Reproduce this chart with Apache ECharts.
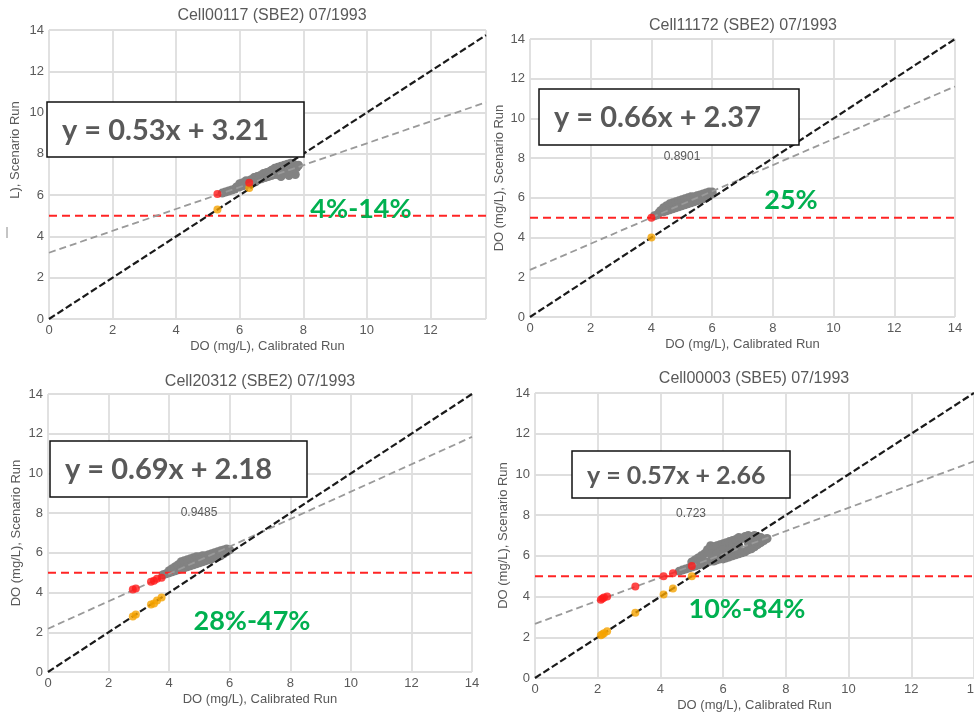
<!DOCTYPE html>
<html>
<head>
<meta charset="utf-8">
<script src="https://cdn.jsdelivr.net/npm/echarts@6/dist/echarts.min.js"></script>
<style>
  html, body { margin: 0; padding: 0; background: #fff; }
  #chart { width: 974px; height: 715px; }
</style>
</head>
<body>
<div id="chart"></div>
<script>
// ---- Data ---------------------------------------------------------------
const cellTitles = [
  'Cell00117 (SBE2) 07/1993',
  'Cell11172 (SBE2) 07/1993',
  'Cell20312 (SBE2) 07/1993',
  'Cell00003 (SBE5) 07/1993'
];
const xAxisName = 'DO (mg/L), Calibrated Run';
const yAxisNames = ['L), Scenario Run', 'DO (mg/L), Scenario Run', 'DO (mg/L), Scenario Run', 'DO (mg/L), Scenario Run'];
const axisTicks = [0, 2, 4, 6, 8, 10, 12, 14];
const xAxisMax = [13.75, 14, 14, 14];

// fitted regression (scenario vs calibrated)
const slopes = [0.53, 0.66, 0.69, 0.57];
const intercepts = [3.21, 2.37, 2.18, 2.66];
const rValues = ['', '0.8901', '0.9485', '0.723'];
const exceedLabels = ['4%-14%', '25%', '28%-47%', '10%-84%'];
const doStandard = 5;

// daily DO pairs [calibrated, scenario]
const cloud1 = [
  [5.45, 6.1], [5.55, 6.15], [5.65, 6.2], [5.75, 6.25], [5.85, 6.3], [5.9, 6.4], [6.0, 6.4], [6.0, 6.55],
  [6.1, 6.45], [6.1, 6.6], [6.2, 6.5], [6.2, 6.7], [6.3, 6.55], [6.35, 6.75], [6.4, 6.6], [6.45, 6.85],
  [6.5, 6.65], [6.55, 6.9], [6.6, 6.75], [6.65, 6.95], [6.7, 6.8], [6.75, 7.05], [6.8, 6.85], [6.85, 7.1],
  [6.9, 6.9], [6.95, 7.15], [7.0, 6.95], [7.0, 7.2], [7.1, 7.0], [7.1, 7.3], [7.2, 7.0], [7.2, 7.35],
  [7.3, 7.05], [7.3, 7.4], [7.4, 7.1], [7.4, 7.45], [7.5, 7.05], [7.5, 7.5], [7.6, 7.15], [7.6, 7.55],
  [7.7, 7.25], [7.7, 7.5], [7.8, 7.35], [7.85, 7.45], [7.75, 7.0], [7.55, 6.95], [7.3, 6.9], [7.0, 7.05]
];
const cloud2 = [
  [4.1, 5.1], [4.2, 5.15], [4.25, 5.25], [4.3, 5.35], [4.4, 5.3], [4.4, 5.5], [4.5, 5.35], [4.5, 5.6],
  [4.6, 5.4], [4.6, 5.7], [4.7, 5.45], [4.7, 5.75], [4.8, 5.5], [4.8, 5.8], [4.9, 5.55], [4.9, 5.85],
  [5.0, 5.6], [5.0, 5.9], [5.1, 5.65], [5.1, 5.95], [5.2, 5.7], [5.2, 6.0], [5.3, 5.75], [5.3, 6.05],
  [5.4, 5.8], [5.4, 6.05], [5.5, 5.85], [5.5, 6.1], [5.6, 5.9], [5.6, 6.15], [5.7, 5.95], [5.7, 6.2],
  [5.8, 6.0], [5.8, 6.25], [5.9, 6.1], [5.9, 6.3], [6.0, 6.2], [6.0, 6.3]
];
const cloud3 = [
  [3.8, 4.9], [3.9, 4.95], [4.0, 5.0], [4.0, 5.1], [4.1, 5.05], [4.1, 5.2], [4.2, 5.1], [4.2, 5.3],
  [4.3, 5.15], [4.3, 5.4], [4.4, 5.2], [4.4, 5.55], [4.5, 5.25], [4.5, 5.6], [4.6, 5.3], [4.6, 5.65],
  [4.7, 5.35], [4.7, 5.7], [4.8, 5.4], [4.8, 5.75], [4.9, 5.45], [4.9, 5.8], [5.0, 5.5], [5.0, 5.8],
  [5.1, 5.55], [5.1, 5.85], [5.2, 5.6], [5.2, 5.85], [5.3, 5.65], [5.3, 5.9], [5.4, 5.7], [5.4, 5.95],
  [5.5, 5.75], [5.5, 6.0], [5.6, 5.8], [5.6, 6.05], [5.7, 5.85], [5.7, 6.1], [5.8, 5.95], [5.8, 6.15],
  [5.9, 6.05], [5.9, 6.2], [6.0, 6.15]
];
const cloud4 = [
  [4.6, 5.25], [4.7, 5.3], [4.8, 5.35], [4.9, 5.4], [5.0, 5.45], [5.0, 5.7], [5.1, 5.5], [5.1, 5.8],
  [5.2, 5.55], [5.2, 5.9], [5.3, 5.6], [5.3, 6.0], [5.4, 5.65], [5.4, 6.1], [5.5, 5.7], [5.5, 6.3],
  [5.6, 5.75], [5.6, 6.5], [5.7, 5.75], [5.7, 6.45], [5.8, 5.8], [5.8, 6.5], [5.9, 5.85], [5.9, 6.55],
  [6.0, 5.85], [6.0, 6.6], [6.1, 5.9], [6.1, 6.65], [6.2, 5.95], [6.2, 6.7], [6.3, 6.0], [6.3, 6.75],
  [6.4, 6.05], [6.4, 6.8], [6.5, 6.1], [6.5, 6.9], [6.6, 6.15], [6.6, 6.85], [6.7, 6.2], [6.7, 6.95],
  [6.8, 6.3], [6.8, 7.0], [6.9, 6.35], [6.9, 6.95], [7.0, 6.45], [7.0, 7.0], [7.1, 6.55], [7.1, 6.95],
  [7.2, 6.65], [7.2, 6.9], [7.3, 6.75], [7.4, 6.85], [5.3, 5.8], [5.6, 6.1], [5.9, 6.2], [6.0, 6.3],
  [6.2, 6.3], [6.5, 6.5], [6.8, 6.65], [7.0, 6.7], [6.3, 6.4], [5.8, 6.1]
];

// days below the standard: scenario value (red) and calibrated value (orange)
const red1 = [[5.3, 6.05], [6.3, 6.6]];
const orange1 = [[5.3, 5.3], [6.3, 6.35]];
const red2 = [[4.0, 5.0]];
const orange2 = [[4.0, 4.0]];
const red3 = [[2.8, 4.15], [2.9, 4.2], [3.4, 4.55], [3.5, 4.6], [3.6, 4.7], [3.75, 4.75]];
const orange3 = [[2.8, 2.8], [2.9, 2.9], [3.4, 3.4], [3.5, 3.45], [3.6, 3.6], [3.75, 3.75]];
const red4 = [[2.1, 3.85], [2.15, 3.9], [2.2, 3.95], [2.3, 4.0], [3.2, 4.5], [4.1, 5.0], [4.4, 5.15], [5.0, 5.5]];
const orange4 = [[2.1, 2.1], [2.15, 2.15], [2.2, 2.2], [2.3, 2.3], [3.2, 3.2], [4.1, 4.1], [4.4, 4.4], [5.0, 5.0]];

const clouds = [cloud1, cloud2, cloud3, cloud4];
const reds = [red1, red2, red3, red4];
const oranges = [orange1, orange2, orange3, orange4];

// ---- Layout -------------------------------------------------------------
const grids = [
  { left: 49, top: 30, width: 437, height: 289 },
  { left: 530, top: 39, width: 425, height: 278 },
  { left: 48, top: 394, width: 424, height: 278 },
  { left: 535, top: 393, width: 439, height: 285 }
];
const titlePos = [[272, 16], [743, 26], [260, 382], [754, 379]];
const boxes = [
  { x: 47, y: 102, w: 257, h: 55 },
  { x: 539, y: 89, w: 260, h: 56 },
  { x: 50, y: 441, w: 257, h: 56 },
  { x: 572, y: 451, w: 218, h: 47 }
];
const eqFontSize = [29, 29, 29, 25];
const rPos = [[0, 0], [682, 157], [199, 513], [691, 514]];
const pctPos = [[361, 209], [791, 200], [252, 621], [747, 609]];
const yNameGap = [28, 24, 25, 25];

const TXT = '#595959';
const FONT = '"Liberation Sans", Arial, sans-serif';

const chart = echarts.init(document.getElementById('chart'), null, { renderer: 'canvas' });

const xAxes = [], yAxes = [], series = [], graphics = [];

grids.forEach((g, i) => {
  const xmax = xAxisMax[i];
  xAxes.push({
    type: 'value', gridIndex: i, min: axisTicks[0], max: xmax, interval: 2,
    name: xAxisName, nameLocation: 'middle', nameGap: 21,
    nameTextStyle: { color: TXT, fontSize: 13, fontFamily: FONT },
    axisLine: { show: false }, axisTick: { show: false },
    axisLabel: { color: TXT, fontSize: 13, fontFamily: FONT, margin: 5, showMaxLabel: xmax === 14, alignMaxLabel: 'center' },
    splitLine: { show: true, lineStyle: { color: '#dedede', width: 1.8 } }
  });
  yAxes.push({
    type: 'value', gridIndex: i, min: axisTicks[0], max: axisTicks[axisTicks.length - 1], interval: 2,
    // the first panel's axis title is drawn separately (partly hidden)
    name: i === 0 ? '' : yAxisNames[i], nameLocation: 'middle', nameGap: yNameGap[i],
    nameTextStyle: { color: TXT, fontSize: 13, fontFamily: FONT },
    axisLine: { show: false }, axisTick: { show: false },
    axisLabel: { color: TXT, fontSize: 13, fontFamily: FONT, margin: 5 },
    splitLine: { show: true, lineStyle: { color: '#dedede', width: 1.8 } }
  });

  series.push({
    type: 'scatter', xAxisIndex: i, yAxisIndex: i, data: clouds[i],
    symbolSize: 9, itemStyle: { color: '#828282', opacity: 1 }, z: 2, silent: true
  });
  series.push({
    type: 'line', xAxisIndex: i, yAxisIndex: i, data: [[0, doStandard], [xmax, doStandard]],
    symbol: 'none', lineStyle: { color: '#ff2424', width: 2, type: [8, 5] }, z: 3, silent: true
  });
  series.push({
    type: 'line', xAxisIndex: i, yAxisIndex: i,
    data: [[0, intercepts[i]], [xmax, slopes[i] * xmax + intercepts[i]]],
    symbol: 'none', lineStyle: { color: '#9a9a9a', width: 1.8, type: [7, 4] }, z: 3, silent: true
  });
  series.push({
    type: 'line', xAxisIndex: i, yAxisIndex: i, data: [[0, 0], [xmax, xmax]],
    symbol: 'none', lineStyle: { color: '#1a1a1a', width: 2.2, type: [7, 3] }, z: 4, silent: true
  });
  series.push({
    type: 'scatter', xAxisIndex: i, yAxisIndex: i, data: oranges[i],
    symbolSize: 8, itemStyle: { color: '#f5a300' }, z: 5, silent: true
  });
  series.push({
    type: 'scatter', xAxisIndex: i, yAxisIndex: i, data: reds[i],
    symbolSize: 8, itemStyle: { color: '#ff1a1a' }, z: 5, silent: true
  });

  // panel title
  graphics.push({
    type: 'text', x: titlePos[i][0], y: titlePos[i][1], z: 10,
    style: { text: cellTitles[i], fill: TXT, font: '16px ' + FONT, align: 'center', verticalAlign: 'middle' }
  });
  // equation box
  const b = boxes[i];
  graphics.push({
    type: 'rect', z: 20,
    shape: { x: b.x, y: b.y, width: b.w, height: b.h },
    style: { fill: '#ffffff', stroke: '#111111', lineWidth: 1.5 }
  });
  graphics.push({
    type: 'text', x: b.x + 15, y: b.y + b.h / 2 + 1, z: 21,
    style: {
      text: 'y = ' + slopes[i].toFixed(2) + 'x + ' + intercepts[i].toFixed(2),
      fill: TXT, font: 'bold ' + eqFontSize[i] + 'px Lato, "Open Sans", sans-serif', align: 'left', verticalAlign: 'middle'
    }
  });
  if (rValues[i]) {
    graphics.push({
      type: 'text', x: rPos[i][0], y: rPos[i][1], z: 10,
      style: { text: rValues[i], fill: TXT, font: '12px ' + FONT, align: 'center', verticalAlign: 'middle' }
    });
  }
  graphics.push({
    type: 'text', x: pctPos[i][0], y: pctPos[i][1], z: 10,
    style: { text: exceedLabels[i], fill: '#00b050', font: 'bold 27px Lato, "Open Sans", sans-serif', align: 'center', verticalAlign: 'middle' }
  });
});

// first panel's y-axis title (its start is cut off)
graphics.push({
  type: 'text', x: 15, y: 150, rotation: Math.PI / 2, z: 10,
  style: { text: yAxisNames[0], fill: TXT, font: '13px ' + FONT, align: 'center', verticalAlign: 'middle' }
});
// small leftover tick mark beside the first panel's axis title
graphics.push({
  type: 'line', z: 10,
  shape: { x1: 7, y1: 227, x2: 7, y2: 238 },
  style: { stroke: '#8a8a8a', lineWidth: 1 }
});

chart.setOption({
  animation: false,
  backgroundColor: '#ffffff',
  grid: grids.map(g => Object.assign({ containLabel: false, outerBoundsMode: 'none' }, g)),
  xAxis: xAxes,
  yAxis: yAxes,
  series: series,
  graphic: { elements: graphics }
});
</script>
</body>
</html>
